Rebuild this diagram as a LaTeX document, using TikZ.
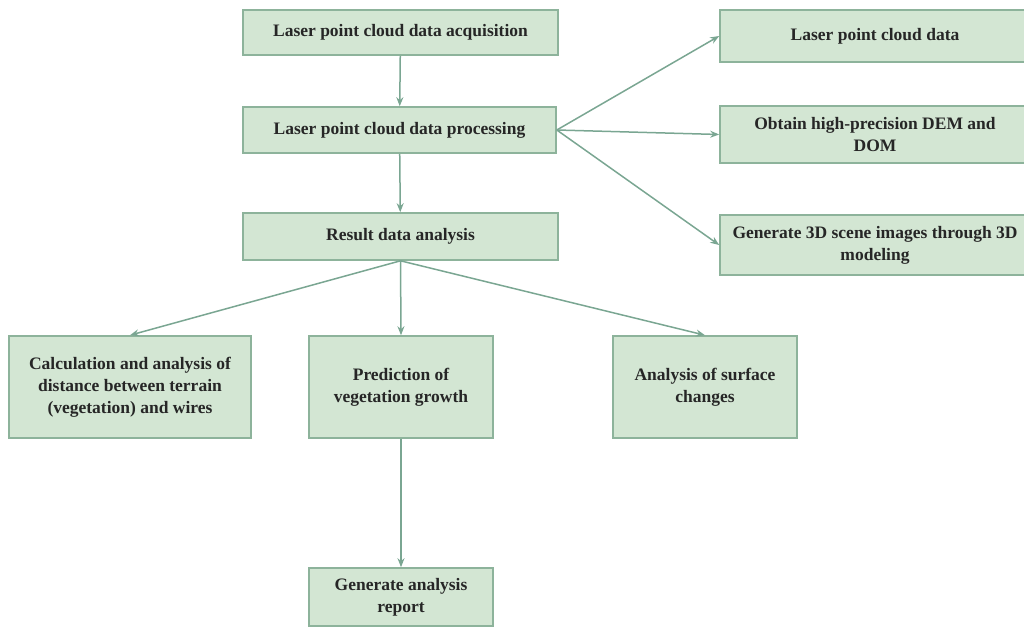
\documentclass[tikz,border=0pt]{standalone}
\usepackage{fontspec}
\setmainfont{Liberation Serif}
\usetikzlibrary{arrows.meta}
\definecolor{boxfill}{HTML}{D3E6D3}
\definecolor{boxline}{HTML}{8DB39B}
\definecolor{arrline}{HTML}{7AA692}
\tikzset{
  box/.style={draw=boxline, fill=boxfill, line width=1.6pt, align=center,
    inner sep=0pt, font=\fontsize{17.5}{22}\selectfont\bfseries, text=black!85},
  conn/.style={draw=arrline, line width=1.5pt, -{Stealth[length=9pt,width=7pt]}}
}
\begin{document}
\begin{tikzpicture}[x=1pt,y=-1pt]
\useasboundingbox (0,0) rectangle (1024,626);
\clip (0,0) rectangle (1024,626);
\node[box, minimum width=315pt, minimum height=45pt] (A) at (400.5,32.5) {Laser point cloud data acquisition};
\node[box, minimum width=313pt, minimum height=46pt] (B) at (399.5,130) {Laser point cloud data processing};
\node[box, minimum width=315pt, minimum height=47pt] (C) at (400.5,236.5) {Result data analysis};
\node[box, minimum width=310pt, minimum height=52pt] (R1) at (875,36) {Laser point cloud data};
\node[box, minimum width=310pt, minimum height=57pt] (R2) at (875,134.5) {Obtain high-precision DEM and\\DOM};
\node[box, minimum width=310pt, minimum height=60pt] (R3) at (875,245) {Generate 3D scene images through 3D\\modeling};
\node[box, minimum width=242pt, minimum height=102pt] (L1) at (130,387) {Calculation and analysis of\\distance between terrain\\(vegetation) and wires};
\node[box, minimum width=184pt, minimum height=102pt] (L2) at (401,387) {Prediction of\\vegetation growth};
\node[box, minimum width=184pt, minimum height=102pt] (L3) at (705,387) {Analysis of surface\\changes};
\node[box, minimum width=184pt, minimum height=58pt] (L4) at (401,597) {Generate analysis\\report};
\draw[conn] (A) -- (B);
\draw[conn] (B) -- (C);
\draw[conn] (B.east) -- (R1.west);
\draw[conn] (B.east) -- (R2.west);
\draw[conn] (B.east) -- (R3.west);
\draw[conn] (C.south) -- (L1.north);
\draw[conn] (C.south) -- (L2.north);
\draw[conn] (C.south) -- (L3.north);
\draw[conn] (L2) -- (L4);
\end{tikzpicture}
\end{document}
